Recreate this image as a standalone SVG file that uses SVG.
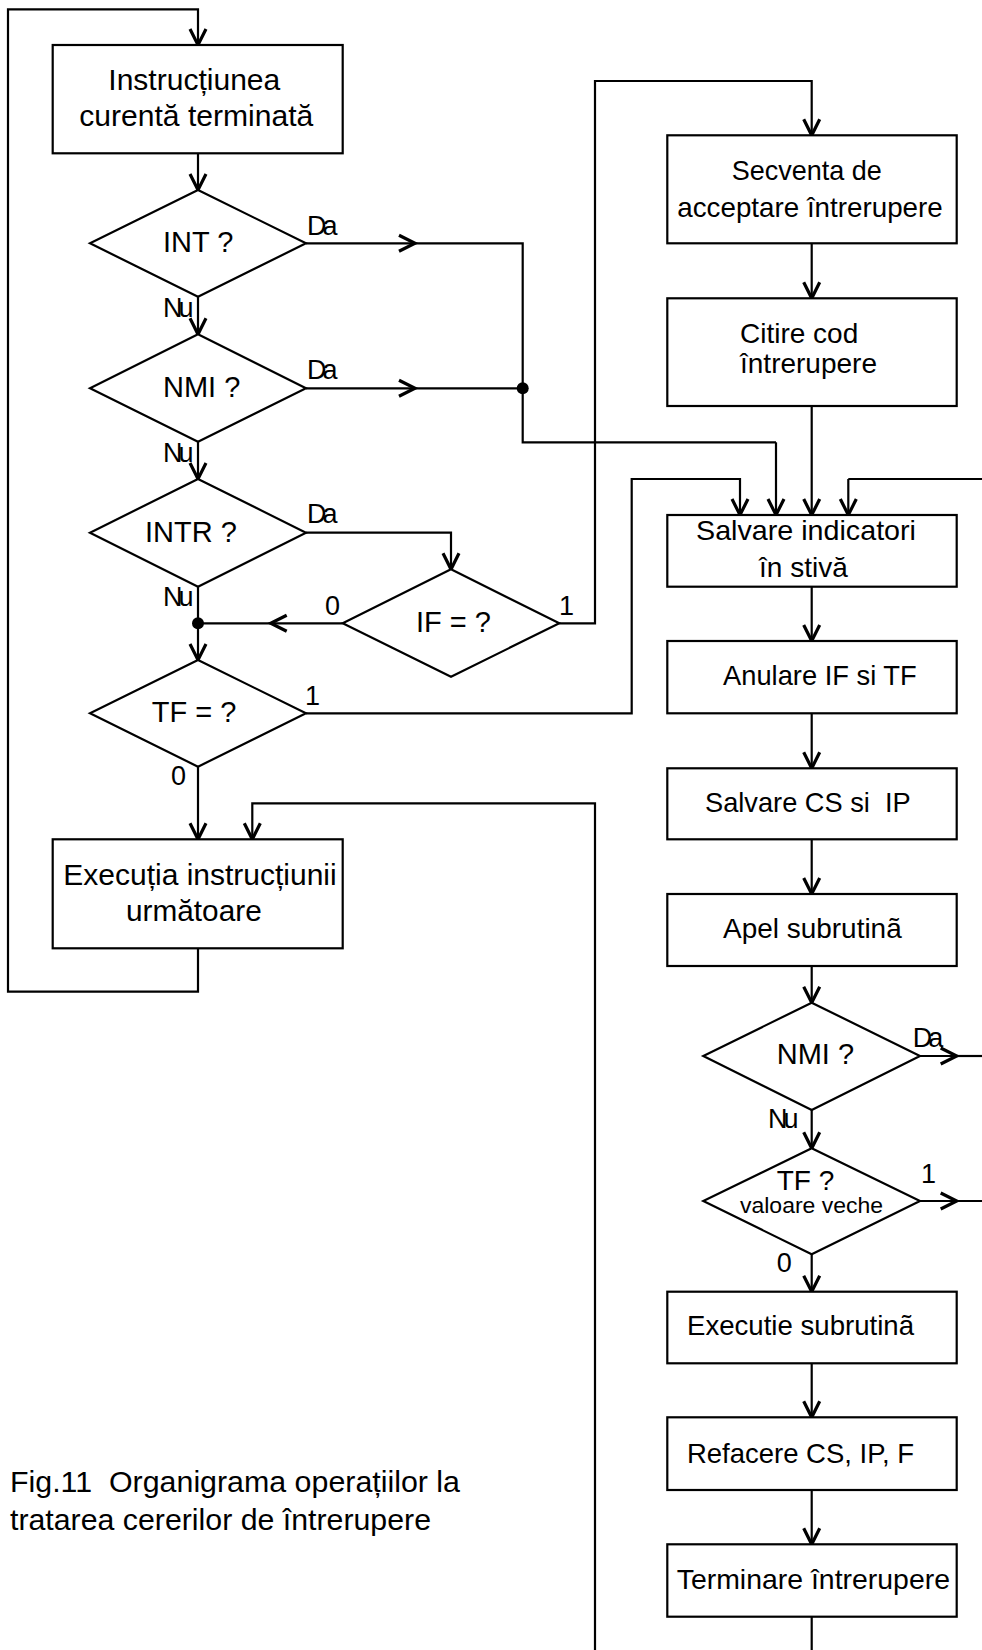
<svg xmlns="http://www.w3.org/2000/svg" width="982" height="1650" viewBox="0 0 982 1650">
<style>
.box{fill:#fff;stroke:#000;stroke-width:2.2}
.dec{fill:#fff;stroke:#000;stroke-width:2.2}
.ln{fill:none;stroke:#000;stroke-width:2.2}
.arr{fill:none;stroke:#000;stroke-width:2.2;marker-end:url(#ah)}
.t30{font-family:"Liberation Sans",Arial,sans-serif;font-size:30px;fill:#000}
.t28{font-family:"Liberation Sans",Arial,sans-serif;font-size:28px;fill:#000}
.t29{font-family:"Liberation Sans",Arial,sans-serif;font-size:29px;fill:#000}
.lb{font-family:"Liberation Sans",Arial,sans-serif;font-size:27px;fill:#000}
.kn{letter-spacing:-4px}
.sm{font-family:"Liberation Sans",Arial,sans-serif;font-size:22px;fill:#000}
</style>
<defs>
<marker id="ah" markerUnits="userSpaceOnUse" markerWidth="24" markerHeight="24" viewBox="-20 -12 24 24" refX="0" refY="0" orient="auto" overflow="visible">
<path d="M-16,-8 L0,0 L-16,8" fill="none" stroke="#000" stroke-width="3.2" stroke-linejoin="miter"/>
</marker>
</defs>
<rect width="982" height="1650" fill="#fff"/>

<g id="connectors">
<path class="arr" d="M198,948.3 V991.7 H8 V9.3 H198 V45"/>
<path class="arr" d="M198,153.3 V190"/>
<path class="arr" d="M198,296.7 V334.3"/>
<path class="arr" d="M198,441.7 V479"/>
<path class="arr" d="M198,586.7 V660"/>
<path class="arr" d="M198,766.7 V839.3"/>
<path class="arr" d="M306,243.3 H415"/>
<path class="ln" d="M415,243.3 H522.7 V442.3 H776"/>
<path class="arr" d="M776,442.3 V515"/>
<path class="arr" d="M306,388.3 H415"/>
<path class="ln" d="M415,388.3 H522.7"/>
<circle cx="522.7" cy="388.3" r="6"/>
<path class="arr" d="M306,532.7 H451 V569.3"/>
<path class="arr" d="M342.7,623.3 H270.7"/>
<path class="ln" d="M270.7,623.3 H198"/>
<circle cx="198" cy="623.3" r="6"/>
<path class="arr" d="M559.3,623.3 H595 V81 H811.7 V135.3"/>
<path class="arr" d="M306,713.3 H631.7 V479 H740 V515"/>
<path class="arr" d="M595,1650 V803.3 H252.3 V839.3"/>
<path class="arr" d="M811.7,243.3 V298.3"/>
<path class="arr" d="M811.7,406 V515"/>
<path class="arr" d="M811.7,586.7 V641"/>
<path class="arr" d="M811.7,713.3 V768.3"/>
<path class="arr" d="M811.7,839.3 V894"/>
<path class="arr" d="M811.7,966 V1002.7"/>
<path class="arr" d="M811.7,1110 V1148.3"/>
<path class="arr" d="M811.7,1254.3 V1291.7"/>
<path class="arr" d="M811.7,1363.3 V1417.3"/>
<path class="arr" d="M811.7,1490 V1544.3"/>
<path class="ln" d="M811.7,1616.7 V1650"/>
<path class="arr" d="M920,1056 H956.7"/>
<path class="ln" d="M956.7,1056 H984"/>
<path class="arr" d="M920,1201 H956.7"/>
<path class="ln" d="M956.7,1201 H984 V479 H848.3"/>
<path class="arr" d="M848.3,479 V515"/>
</g>

<g id="n-instr-curenta">
<rect class="box" x="52.7" y="45" width="290" height="108.3"/>
<text class="t30" x="108.3" y="90" textLength="172" lengthAdjust="spacingAndGlyphs">Instrucțiunea</text>
<text class="t30" x="79.3" y="126" textLength="234" lengthAdjust="spacingAndGlyphs">curentă terminată</text>
</g>

<g id="d-int">
<polygon class="dec" points="198,190 306,243.3 198,296.7 90,243.3"/>
<text class="t29" x="163" y="252">INT ?</text>
<text class="lb kn" x="307" y="235">Da</text>
<text class="lb kn" x="163" y="316.7">Nu</text>
</g>

<g id="d-nmi">
<polygon class="dec" points="198,334.3 306,388.3 198,441.7 90,388.3"/>
<text class="t29" x="163" y="396.7">NMI ?</text>
<text class="lb kn" x="307" y="379">Da</text>
<text class="lb kn" x="163" y="461.7">Nu</text>
</g>

<g id="d-intr">
<polygon class="dec" points="198,479 306,532.7 198,586.7 90,532.7"/>
<text class="t29" x="145" y="541.7">INTR ?</text>
<text class="lb kn" x="307" y="523.3">Da</text>
<text class="lb kn" x="163" y="606">Nu</text>
</g>

<g id="d-if">
<polygon class="dec" points="451,569.3 559.3,623.3 451,676.7 342.7,623.3"/>
<text class="t29" x="416" y="631.7">IF = ?</text>
<text class="lb" x="325" y="615">0</text>
<text class="lb" x="559" y="615">1</text>
</g>

<g id="d-tf">
<polygon class="dec" points="198,660 306,713.3 198,766.7 90,713.3"/>
<text class="t29" x="151.7" y="721.7">TF = ?</text>
<text class="lb" x="305" y="705">1</text>
<text class="lb" x="171" y="785">0</text>
</g>

<g id="n-executia">
<rect class="box" x="52.7" y="839.3" width="290" height="109"/>
<text class="t30" x="63.3" y="885" textLength="273.4" lengthAdjust="spacingAndGlyphs">Execuția instrucțiunii</text>
<text class="t30" x="126" y="920.7" textLength="135.7" lengthAdjust="spacingAndGlyphs">următoare</text>
</g>

<g id="n-secventa">
<rect class="box" x="667.3" y="135.3" width="289.4" height="108"/>
<text class="t28" x="731.7" y="180" textLength="150" lengthAdjust="spacingAndGlyphs">Secventa de</text>
<text class="t28" x="677.3" y="216.7" textLength="265.4" lengthAdjust="spacingAndGlyphs">acceptare întrerupere</text>
</g>

<g id="n-citire">
<rect class="box" x="667.3" y="298.3" width="289.4" height="107.7"/>
<text class="t28" x="740" y="343.3">Citire cod</text>
<text class="t28" x="740" y="373.3">întrerupere</text>
</g>

<g id="n-salvare-ind">
<rect class="box" x="667.3" y="515" width="289.4" height="71.7"/>
<text class="t28" x="696" y="540" textLength="220" lengthAdjust="spacingAndGlyphs">Salvare indicatori</text>
<text class="t28" x="759" y="576.7">în stivă</text>
</g>

<g id="n-anulare">
<rect class="box" x="667.3" y="641" width="289.4" height="72.3"/>
<text class="t28" x="723" y="685" textLength="193.7" lengthAdjust="spacingAndGlyphs">Anulare IF si TF</text>
</g>

<g id="n-salvare-cs">
<rect class="box" x="667.3" y="768.3" width="289.4" height="71"/>
<text class="t28" x="705" y="811.7" textLength="205.7" lengthAdjust="spacingAndGlyphs" xml:space="preserve">Salvare CS si  IP</text>
</g>

<g id="n-apel">
<rect class="box" x="667.3" y="894" width="289.4" height="72"/>
<text class="t28" x="723" y="938.3" textLength="178.7" lengthAdjust="spacingAndGlyphs">Apel subrutinã</text>
</g>

<g id="d-nmi2">
<polygon class="dec" points="811.7,1002.7 920,1056 811.7,1110 703.3,1056"/>
<text class="t29" x="776.7" y="1064.3">NMI ?</text>
<text class="lb kn" x="912.7" y="1046.7">Da</text>
<text class="lb kn" x="768" y="1128.3">Nu</text>
</g>

<g id="d-tf2">
<polygon class="dec" points="811.7,1148.3 920,1201 811.7,1254.3 703.3,1201"/>
<text class="t28" x="776.7" y="1190">TF ?</text>
<text class="sm" x="740" y="1213.3" textLength="143" lengthAdjust="spacingAndGlyphs">valoare veche</text>
<text class="lb" x="921" y="1183.3">1</text>
<text class="lb" x="776.7" y="1271.7">0</text>
</g>

<g id="n-executie">
<rect class="box" x="667.3" y="1291.7" width="289.4" height="71.6"/>
<text class="t28" x="687" y="1335" textLength="227" lengthAdjust="spacingAndGlyphs">Executie subrutinã</text>
</g>

<g id="n-refacere">
<rect class="box" x="667.3" y="1417.3" width="289.4" height="72.7"/>
<text class="t28" x="687" y="1462.7" textLength="227" lengthAdjust="spacingAndGlyphs">Refacere CS, IP, F</text>
</g>

<g id="n-terminare">
<rect class="box" x="667.3" y="1544.3" width="289.4" height="72.4"/>
<text class="t28" x="676.7" y="1589.3" textLength="273.3" lengthAdjust="spacingAndGlyphs">Terminare întrerupere</text>
</g>

<g id="caption">
<text class="t30" x="10" y="1491.7" textLength="450" lengthAdjust="spacingAndGlyphs" xml:space="preserve">Fig.11  Organigrama operațiilor la</text>
<text class="t30" x="10" y="1530" textLength="421" lengthAdjust="spacingAndGlyphs">tratarea cererilor de întrerupere</text>
</g>
</svg>
